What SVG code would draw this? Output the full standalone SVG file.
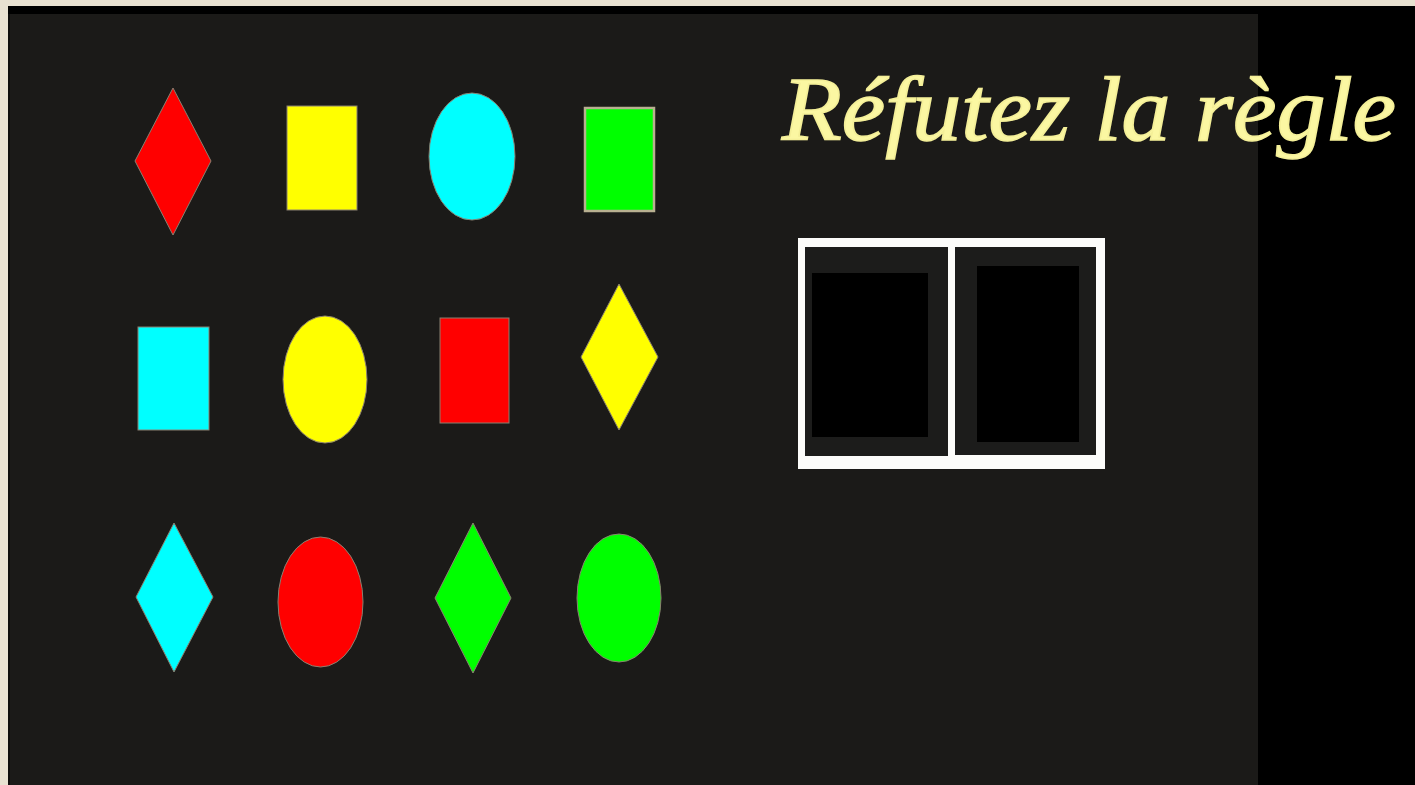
<svg xmlns="http://www.w3.org/2000/svg" width="1415" height="785" viewBox="0 0 1415 785">
  <style>
    .shape { stroke: #8a8070; stroke-width: 1; }
    .red { fill: #ff0000; }
    .yellow { fill: #ffff00; }
    .cyan { fill: #00ffff; }
    .green { fill: #00ff00; }
    .title { font-family: "Liberation Serif", "DejaVu Serif", serif; font-style: italic; font-size: 90px; fill: #fbf7a2; stroke: #f4ef98; stroke-width: 1.6; }
    .frame { fill: #fcfcfa; }
    .cell { fill: #1c1c1b; }
    .pane { fill: #000000; }
  </style>
  <!-- background -->
  <rect x="0" y="0" width="1415" height="785" fill="#e8e1d1"/>
  <rect x="8" y="6" width="1407" height="779" fill="#1b1a18"/>
  <rect x="8" y="6" width="1407" height="8" fill="#000000"/>
  <rect x="1258" y="6" width="157" height="779" fill="#000000"/>
  <rect x="8" y="14" width="2" height="771" fill="#0e0d0c"/>

  <!-- row 1 -->
  <g id="red-diamond-1"><polygon class="shape red" points="173,88 211,161 173,235 135,161"/></g>
  <g id="yellow-rect-1"><rect class="shape yellow" x="287" y="106" width="70" height="104"/></g>
  <g id="cyan-ellipse-1"><ellipse class="shape cyan" cx="472" cy="156.5" rx="43" ry="63.5"/></g>
  <g id="green-rect-1"><rect class="green" x="585" y="108" width="69" height="103" stroke="#b8b090" stroke-width="2.5"/></g>

  <!-- row 2 -->
  <g id="cyan-rect-2"><rect class="shape cyan" x="138" y="327" width="71" height="103"/></g>
  <g id="yellow-ellipse-2"><ellipse class="shape yellow" cx="325" cy="379.5" rx="42" ry="63.5"/></g>
  <g id="red-rect-2"><rect class="shape red" x="440" y="318" width="69" height="105"/></g>
  <g id="yellow-diamond-2"><polygon class="shape yellow" points="619,284 658,357 619,430 581,357"/></g>

  <!-- row 3 -->
  <g id="cyan-diamond-3"><polygon class="shape cyan" points="174,523 213,597 174,672 136,597"/></g>
  <g id="red-ellipse-3"><ellipse class="shape red" cx="320.5" cy="602" rx="42.5" ry="65"/></g>
  <g id="green-diamond-3"><polygon class="shape green" points="473,523 511,598 473,673 435,598"/></g>
  <g id="green-ellipse-3"><ellipse class="shape green" cx="619" cy="598" rx="42" ry="64" stroke="#b8b090" stroke-width="1.5"/></g>

  <!-- title -->
  <g id="title">
    <text class="title" x="782" y="140" textLength="614" lengthAdjust="spacingAndGlyphs">Réfutez la règle</text>
  </g>

  <!-- window -->
  <g id="window">
    <rect class="frame" x="798" y="238" width="307" height="231"/>
    <rect class="cell" x="805" y="247" width="143" height="209"/>
    <rect class="cell" x="955" y="247" width="141" height="208"/>
    <rect class="pane" x="812" y="273" width="116" height="164"/>
    <rect class="pane" x="977" y="266" width="102" height="176"/>
  </g>
</svg>
